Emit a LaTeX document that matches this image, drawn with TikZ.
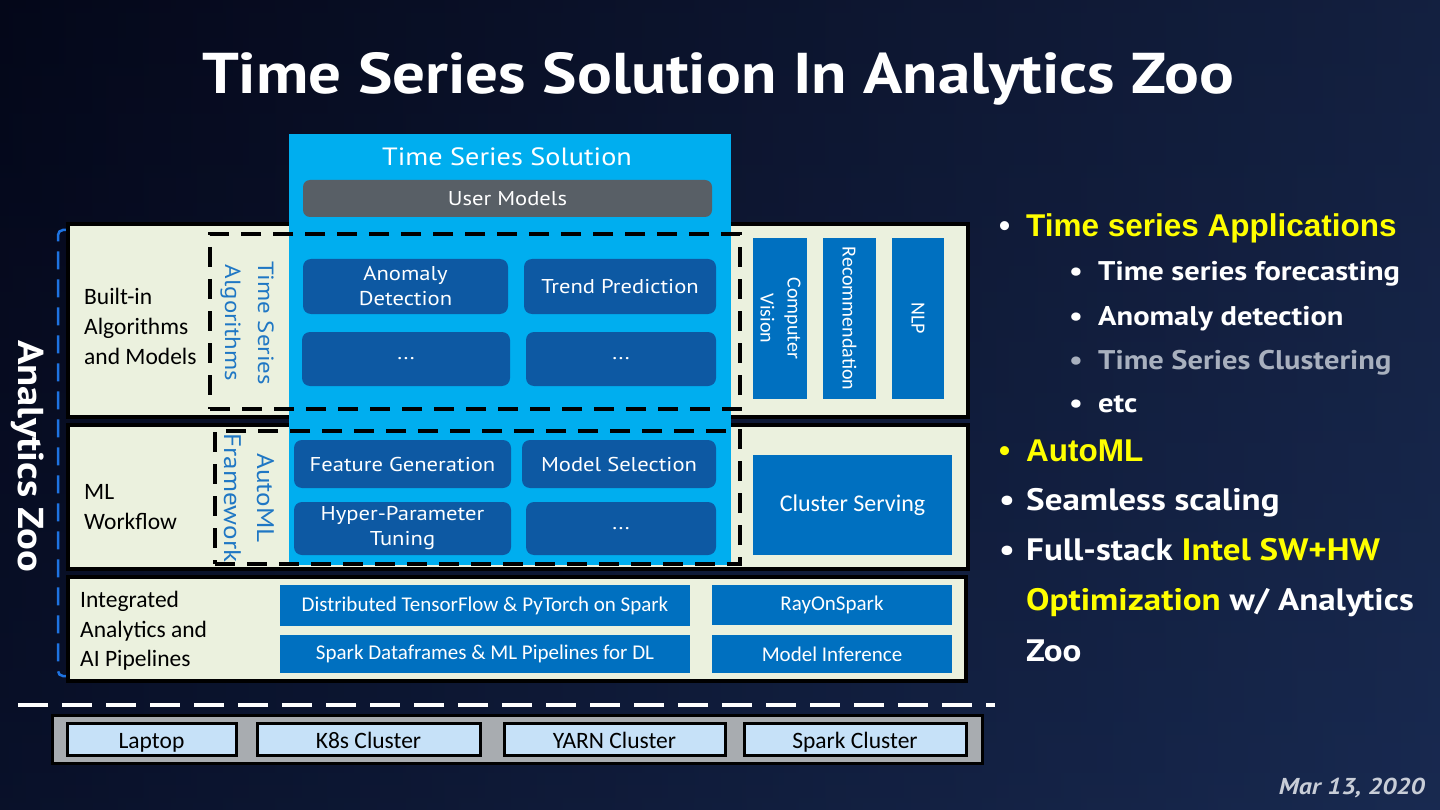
\documentclass[tikz,border=0pt]{standalone}
\usepackage{fontspec}
\setmainfont{PT Sans}[FakeStretch=1.13]
\newfontfamily\calfont{Carlito}
\newfontfamily\arl{Liberation Sans}
\usetikzlibrary{positioning}
\newcommand\fsz[2]{\fontsize{#1pt}{#2pt}\selectfont}
\definecolor{bgtop}{RGB}{6,10,34}
\definecolor{bgbot}{RGB}{22,42,88}
\definecolor{bgright}{RGB}{40,65,120}
\definecolor{cream}{RGB}{235,241,222}
\definecolor{panel}{RGB}{0,174,239}
\definecolor{darkbox}{RGB}{13,89,163}
\definecolor{midblue}{RGB}{0,112,192}
\definecolor{umgray}{RGB}{88,95,102}
\definecolor{lblue}{RGB}{31,119,196}
\definecolor{brk}{RGB}{30,115,225}
\definecolor{platgray}{RGB}{168,172,176}
\definecolor{platblue}{RGB}{198,225,248}
\definecolor{yel}{RGB}{255,255,0}
\definecolor{dimtxt}{RGB}{168,176,190}
\definecolor{datec}{RGB}{200,205,215}
\tikzset{
  layer/.style={draw=black, line width=4pt, fill=cream, inner sep=0pt},
  dbox/.style={fill=darkbox, rounded corners=8pt, text=white, align=center, inner sep=0pt, font=\fsz{20}{25}},
  mbox/.style={fill=midblue, text=white, align=center, inner sep=0pt, font=\calfont\fsz{20}{27}},
  dashbox/.style={draw=black, line width=4pt, dash pattern=on 20pt off 12pt, inner sep=0pt},
  lefttxt/.style={anchor=west, align=left, text=black, font=\calfont\fsz{23.5}{30}, inner sep=0pt},
  vtxt/.style={rotate=-90, align=center, text=lblue, inner sep=0pt},
  platbox/.style={draw=black, line width=3pt, fill=platblue, inner sep=0pt, text height=19pt, text depth=0pt, font=\calfont\fsz{23.5}{26}},
  bul/.style={anchor=base west, inner sep=0pt, text=white},
}
\begin{document}
\begin{tikzpicture}[x=1pt,y=-1pt]
\useasboundingbox (0,0) rectangle (1440,810);
\fill[top color=bgtop, bottom color=bgbot] (0,0) rectangle (1440,810);
\fill[left color=bgtop, right color=bgright, opacity=0.45] (0,0) rectangle (1440,810);

% title
\node[text=white, font=\bfseries\fsz{57.5}{60}, inner sep=0pt] (title) at (718,79) {Time Series Solution In Analytics Zoo};

% bracket and side label
\coordinate (bt) at (67,230);
\coordinate (bb) at (68,676);
\draw[brk, line width=2.5pt, dash pattern=on 18pt off 10pt, rounded corners=5pt] (bt) -| (58,676) -- (bb);
\node[rotate=-90, text=white, font=\bfseries\fsz{36}{40}, inner sep=0pt] (az) at (28,456) {Analytics Zoo};

% layers
\node[layer, minimum width=900pt, minimum height=193pt] (L1) at (518,320.5) {};
\node[layer, minimum width=900pt, minimum height=144pt] (L2) at (518,497) {};
\node[layer, minimum width=898pt, minimum height=104pt] (L3) at (517,629) {};

% panel
\node[fill=panel, minimum width=442pt, minimum height=431pt, inner sep=0pt] (P) at (510,349.5) {};
\node[text=white, font=\fsz{25}{28}, inner sep=0pt] (ptitle) at (507,157) {Time Series Solution};
\node[fill=umgray, rounded corners=7pt, minimum width=409pt, minimum height=37pt, text=white, font=\fsz{20}{24}, inner sep=0pt] (um) at (507.5,198.5) {User Models};

% algorithm boxes
\node[dbox, minimum width=205pt, minimum height=55pt] (ad) at (405.5,286.5) {Anomaly\\Detection};
\node[dbox, minimum width=192pt, minimum height=55pt] (tp) at (620,286.5) {Trend Prediction};
\node[dbox, minimum width=208pt, minimum height=54pt] (d1) at (406,359) {...};
\node[dbox, minimum width=190pt, minimum height=54pt] (d2) at (621,359) {...};
\node[dbox, minimum width=217pt, minimum height=48pt] (fg) at (402.5,464) {Feature Generation};
\node[dbox, minimum width=194pt, minimum height=48pt] (ms) at (619,464) {Model Selection};
\node[dbox, minimum width=217pt, minimum height=53pt] (hp) at (402.5,528.5) {Hyper-Parameter\\Tuning};
\node[dbox, minimum width=190pt, minimum height=53pt] (d3) at (621,528.5) {...};

% dashed frames
\node[dashbox, minimum width=530pt, minimum height=175pt] (DA) at (475,321.5) {};
\node[dashbox, minimum width=525pt, minimum height=133pt] (DB) at (477.5,497.5) {};
\node[vtxt, font=\fsz{22}{33}] (tsa) at (247,323) {Time Series\\Algorithms};
\node[vtxt, font=\fsz{24}{33}] (amf) at (249,498) {AutoML\\Framework};

% left labels
\node[lefttxt] (lb1) at (84,326) {Built-in\\Algorithms\\and Models};
\node[lefttxt] (lb2) at (84,507) {ML\\Workflow};
\node[lefttxt, font=\calfont\fsz{23.5}{29.5}] (lb3) at (80,631) {Integrated\\Analytics and\\AI Pipelines};

% right column
\node[mbox, minimum width=53pt, minimum height=161pt] (cv) at (779.5,318.5) {\rotatebox{-90}{\begin{tabular}{@{}c@{}}Computer\\Vision\end{tabular}}};
\node[mbox, minimum width=53pt, minimum height=161pt] (rec) at (849.5,318.5) {\rotatebox{-90}{Recommendation}};
\node[mbox, minimum width=52pt, minimum height=161pt] (nlp) at (918,318.5) {\rotatebox{-90}{NLP}};
\node[mbox, font=\calfont\fsz{24}{27}, minimum width=199pt, minimum height=100pt] (cs) at (852.5,505) {Cluster Serving};

% layer 3 boxes
\node[mbox, font=\calfont\fsz{21}{24}, minimum width=410pt, minimum height=41pt] (dtf) at (485,605.5) {Distributed TensorFlow \& PyTorch on Spark};
\node[mbox, font=\calfont\fsz{21}{24}, minimum width=410pt, minimum height=38pt] (sdf) at (485,654) {Spark Dataframes \& ML Pipelines for DL};
\node[mbox, font=\calfont\fsz{21}{24}, minimum width=240pt, minimum height=40pt] (ray) at (832,605) {RayOnSpark};
\node[mbox, font=\calfont\fsz{21}{24}, minimum width=240pt, minimum height=38pt] (mi) at (832,654) {Model Inference};

% separator
\coordinate (sl) at (18,705);
\coordinate (sr) at (995,705);
\draw[white, line width=4pt, dash pattern=on 30pt off 14pt] (sl) -- (sr);

% platform
\node[draw=black, line width=3pt, fill=platgray, minimum width=930pt, minimum height=48pt, inner sep=0pt] (plat) at (517,739) {};
\node[platbox, minimum width=169pt, minimum height=32pt] (lap) at (151.5,739) {Laptop};
\node[platbox, minimum width=223pt, minimum height=32pt] (k8s) at (368.5,739) {K8s Cluster};
\node[platbox, minimum width=221pt, minimum height=32pt] (yarn) at (614.5,739) {YARN Cluster};
\node[platbox, minimum width=222pt, minimum height=32pt] (spk) at (855,739) {Spark Cluster};

% right bullets
\node[bul, font=\arl\bfseries\fsz{31.5}{34}] (b0) at (999,237) {•};
\node[bul, text=yel, font=\arl\bfseries\fsz{31.5}{34}] (t0) at (1026,237) {Time series Applications};
\node[bul, font=\bfseries\fsz{27}{30}] (b1) at (1069,281) {•};
\node[bul, font=\bfseries\fsz{27}{30}] (t1) at (1098,281) {Time series forecasting};
\node[bul, font=\bfseries\fsz{27}{30}] (b2) at (1069,325) {•};
\node[bul, font=\bfseries\fsz{27}{30}] (t2) at (1098,325) {Anomaly detection};
\node[bul, text=dimtxt, font=\bfseries\fsz{27}{30}] (b3) at (1069,369) {•};
\node[bul, text=dimtxt, font=\bfseries\fsz{27}{30}] (t3) at (1098,369) {Time Series Clustering};
\node[bul, font=\bfseries\fsz{27}{30}] (b4) at (1069,412) {•};
\node[bul, font=\bfseries\fsz{27}{30}] (t4) at (1098,412) {etc};
\node[bul, text=yel, font=\arl\bfseries\fsz{31.5}{34}] (b5) at (999,461) {•};
\node[bul, text=yel, font=\arl\bfseries\fsz{31.5}{34}] (t5) at (1026,461) {AutoML};
\node[bul, font=\bfseries\fsz{31}{34}] (b6) at (999,510) {•};
\node[bul, font=\bfseries\fsz{31}{34}] (t6) at (1026,510) {Seamless scaling};
\node[bul, font=\bfseries\fsz{31}{34}] (b7) at (999,560) {•};
\node[bul, font=\bfseries\fsz{31}{34}] (t7) at (1026,560) {Full-stack \textcolor{yel}{Intel SW+HW}};
\node[bul, font=\bfseries\fsz{31}{34}] (t8) at (1026,610) {\textcolor{yel}{Optimization} w/ Analytics};
\node[bul, font=\bfseries\fsz{31}{34}] (t9) at (1026,661) {Zoo};

% date
\node[anchor=east, text=datec, font=\bfseries\itshape\fsz{23}{26}, inner sep=0pt] (date) at (1425,788) {Mar 13, 2020};
\end{tikzpicture}
\end{document}
